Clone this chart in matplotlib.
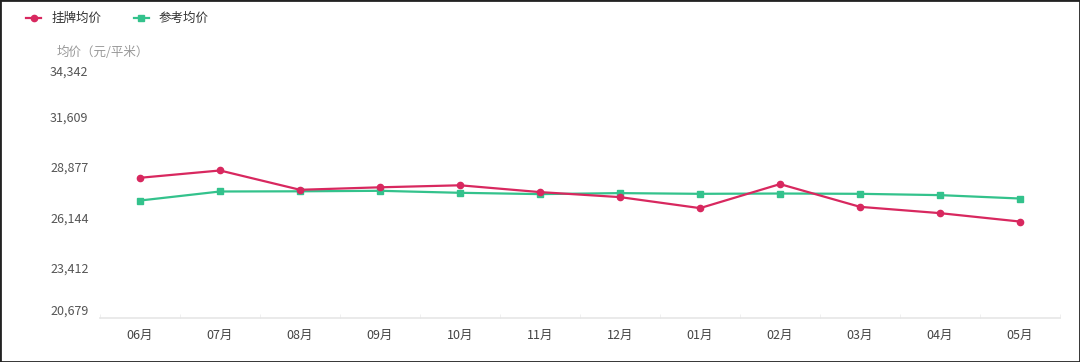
import matplotlib.pyplot as plt
from matplotlib.patches import Rectangle

plt.rcParams['font.family'] = ['Noto Sans CJK SC', 'DejaVu Sans']

months = ['06月', '07月', '08月', '09月', '10月', '11月', '12月', '01月', '02月', '03月', '04月', '05月']
listing_avg = [28281, 28677, 27630, 27765, 27874, 27505, 27233, 26636, 27939, 26706, 26364, 25908]
reference_avg = [27048, 27538, 27548, 27575, 27467, 27396, 27450, 27412, 27428, 27412, 27341, 27157]
y_ticks = [20679, 23412, 26144, 28877, 31609, 34342]

red = '#d8285f'
green = '#33c28c'

fig = plt.figure(figsize=(10.8, 3.62), dpi=100)
ax = fig.add_axes([100 / 1080, 44 / 362, 960 / 1080, 252 / 362])

x = list(range(len(months)))
ax.plot(x, listing_avg, color=red, lw=1.6, marker='o', ms=4.5, label='挂牌均价', zorder=3)
ax.plot(x, reference_avg, color=green, lw=1.6, marker='s', ms=4.5, label='参考均价', zorder=2)

ax.set_xlim(-0.5, len(months) - 0.5)
ax.set_ylim(y_ticks[0], y_ticks[-1])
ax.set_xticks(x)
ax.set_xticklabels(months, fontsize=9, color='#444444')
ax.set_xticks([i - 0.5 for i in range(len(months) + 1)], minor=True)
ax.tick_params(axis='x', which='major', length=0, pad=8)
ax.tick_params(axis='x', which='minor', length=3, color='#eeeeee', direction='in')
ax.set_yticks(y_ticks)
ax.set_yticklabels([f'{v:,}' for v in y_ticks], fontsize=9, color='#555555')
ax.tick_params(axis='y', length=0, pad=36)
ylabels = ax.get_yticklabels()
for lbl in ylabels:
    lbl.set_horizontalalignment('left')
# keep the end labels inside the plot band, like the original
ylabels[0].set_verticalalignment('bottom')
ylabels[-1].set_verticalalignment('top')

for s in ['top', 'right', 'left']:
    ax.spines[s].set_visible(False)
ax.spines['bottom'].set_color('#e6e6e6')
ax.spines['bottom'].set_linewidth(1.2)

fig.text(57 / 1080, 1 - 52 / 362, '均价（元/平米）', fontsize=9, color='#999999', va='center', ha='left')

leg = fig.legend(loc='upper left', bbox_to_anchor=(15 / 1080, 1 - 1 / 362), ncol=2, frameon=False,
                 fontsize=9, handlelength=1.2, columnspacing=2.6, handletextpad=0.8)
for t in leg.get_texts():
    t.set_color('#333333')

fig.patches.append(Rectangle((0, 0), 1, 1, transform=fig.transFigure, fill=False,
                             edgecolor='#222222', lw=2))

fig.savefig('out.png', dpi=100)
